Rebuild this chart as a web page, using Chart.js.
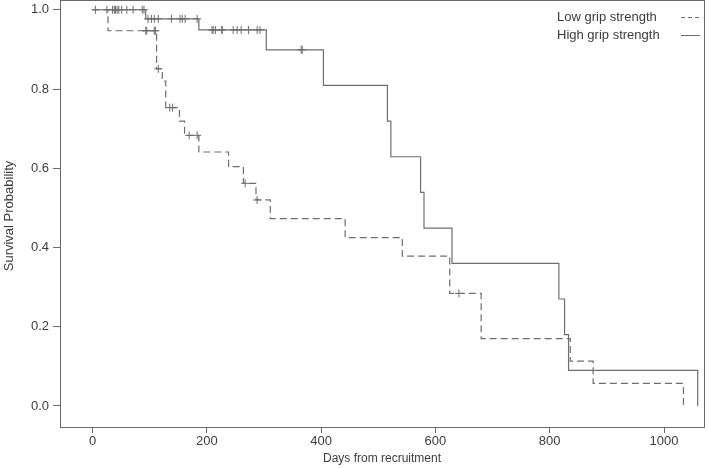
<!DOCTYPE html>
<html>
<head>
<meta charset="utf-8">
<script src="https://cdn.jsdelivr.net/npm/chart.js@4/dist/chart.umd.min.js"></script>
<style>
  html, body { margin: 0; padding: 0; background: #fff; }
  #wrap { width: 709px; height: 468px; position: relative; }
</style>
</head>
<body>
<div id="wrap"><canvas id="chart"></canvas></div>
<script>
// Low grip strength: event times and survival after each step
const lowTimes = [0, 27, 112, 122, 128, 152, 161, 186, 238, 264, 286, 311, 442, 542, 625, 680, 836, 876, 1034];
const lowSurv = [1, 0.947, 0.851, 0.820, 0.753, 0.719, 0.683, 0.641, 0.604, 0.562, 0.520, 0.473, 0.425, 0.378, 0.284, 0.170, 0.113, 0.057, 0];
const lowCensor = [93, 95, 108, 110, 115, 135, 140, 169, 183, 267, 288, 641];

// High grip strength
const highTimes = [0, 93, 186, 304, 404, 516, 522, 574, 580, 629, 816, 826, 833, 1059];
const highSurv = [1, 0.977, 0.949, 0.899, 0.809, 0.719, 0.629, 0.539, 0.449, 0.360, 0.270, 0.180, 0.090, 0];
const highCensor = [5, 25, 35, 38, 40, 43, 46, 51, 60, 71, 87, 90, 97, 103, 108, 115, 138, 153, 157, 162, 183,
  209, 211, 215, 226, 227, 246, 253, 260, 273, 288, 293, 365, 367];

const xTicks = [0, 200, 400, 600, 800, 1000];
const yTicks = [0, 0.2, 0.4, 0.6, 0.8, 1.0];

const lineColor = "#6e6e6e";
const textColor = "#3c3c3c";
const font = "Liberation Sans, Arial, sans-serif";

// survival level at time t for a step curve
function levelAt(times, surv, t) {
  let s = surv[0];
  for (let i = 0; i < times.length; i++) {
    if (times[i] <= t) s = surv[i];
  }
  return s;
}

function toPoints(times, surv) {
  return times.map((t, i) => ({x: t, y: surv[i]}));
}

function censorPoints(list, times, surv) {
  return list.map(t => ({x: t, y: levelAt(times, surv, t)}));
}

// box around the plot (top edge at the image top, as in the original) + legend
const boxAndLegend = {
  id: "boxAndLegend",
  afterDraw(chart) {
    const c = chart.ctx;
    const a = chart.chartArea;
    c.save();
    c.strokeStyle = "#6a6a6a";
    c.lineWidth = 1;
    c.strokeRect(a.left + 0.5, 0.5, a.right - a.left, a.bottom);

    c.fillStyle = textColor;
    c.font = "13px " + font;
    c.textBaseline = "middle";
    c.textAlign = "left";
    c.fillText("Low grip strength", 557, 17);
    c.fillText("High grip strength", 557, 35);

    c.strokeStyle = lineColor;
    c.setLineDash([4, 3]);
    c.beginPath();
    c.moveTo(681, 17.5);
    c.lineTo(700, 17.5);
    c.stroke();
    c.setLineDash([]);
    c.beginPath();
    c.moveTo(681, 35.5);
    c.lineTo(700, 35.5);
    c.stroke();
    c.restore();
  }
};

new Chart(document.getElementById("chart"), {
  type: "line",
  data: {
    datasets: [
      {
        label: "Low grip strength",
        data: toPoints(lowTimes, lowSurv),
        stepped: "before",
        borderColor: lineColor,
        borderWidth: 1.2,
        borderDash: [7, 4],
        pointRadius: 0,
        fill: false
      },
      {
        label: "High grip strength",
        data: toPoints(highTimes, highSurv),
        stepped: "before",
        borderColor: lineColor,
        borderWidth: 1.2,
        pointRadius: 0,
        fill: false
      },
      {
        type: "scatter",
        label: "Low censored",
        data: censorPoints(lowCensor, lowTimes, lowSurv),
        pointStyle: "cross",
        pointRadius: 4,
        borderColor: lineColor,
        borderWidth: 1,
        showLine: false
      },
      {
        type: "scatter",
        label: "High censored",
        data: censorPoints(highCensor, highTimes, highSurv),
        pointStyle: "cross",
        pointRadius: 4,
        borderColor: lineColor,
        borderWidth: 1,
        showLine: false
      }
    ]
  },
  options: {
    responsive: true,
    maintainAspectRatio: false,
    animation: false,
    layout: { padding: { left: 0, right: 2, top: 0, bottom: 0 } },
    plugins: {
      legend: { display: false },
      tooltip: { enabled: false }
    },
    scales: {
      x: {
        type: "linear",
        min: -57,
        max: 1070,
        afterBuildTicks: s => { s.ticks = xTicks.map(v => ({value: v})); },
        afterFit: s => { s.height = 41; s.paddingLeft = 0; s.paddingRight = 0; },
        grid: { drawOnChartArea: false, drawTicks: true, tickLength: 6, color: "#6a6a6a" },
        border: { display: false },
        ticks: {
          color: textColor,
          font: { family: font, size: 13 },
          padding: 1,
          maxRotation: 0,
          callback: v => String(v)
        },
        title: {
          display: true,
          text: "Days from recruitment",
          color: textColor,
          font: { family: font, size: 12 },
          padding: { top: 0, bottom: 2 }
        }
      },
      y: {
        type: "linear",
        min: -0.053,
        max: 1.012,
        afterBuildTicks: s => { s.ticks = yTicks.map(v => ({value: v})); },
        afterFit: s => { s.width = 60; s.paddingTop = 0; s.paddingBottom = 0; },
        grid: { drawOnChartArea: false, drawTicks: true, tickLength: 7, color: "#6a6a6a" },
        border: { display: false },
        ticks: {
          color: textColor,
          font: { family: font, size: 13 },
          padding: 4,
          callback: v => v.toFixed(1)
        },
        title: {
          display: true,
          text: "Survival Probability",
          color: textColor,
          font: { family: font, size: 13 },
          padding: { top: 2, bottom: 0 }
        }
      }
    }
  },
  plugins: [boxAndLegend]
});
</script>
</body>
</html>
